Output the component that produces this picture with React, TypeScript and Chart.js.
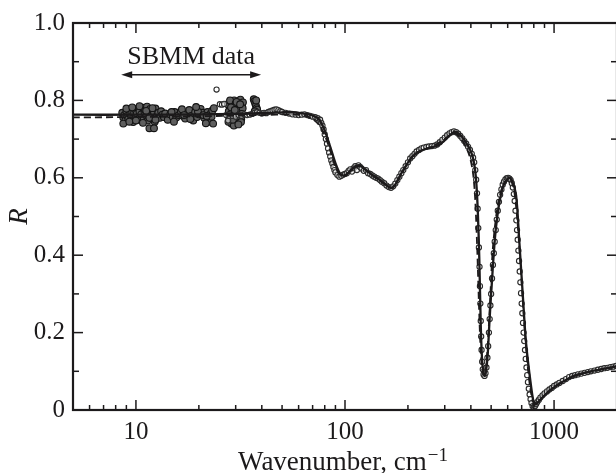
import React, { useEffect, useRef } from "react";
import { Chart, registerables } from "chart.js";

Chart.register(...registerables);

const X_MIN = 5;
const X_MAX = 2000;
const Y_MIN = 0;
const Y_MAX = 1;
const xTickValues = [10, 100, 1000];
const xMinorTicks = [6, 7, 8, 9, 20, 30, 40, 50, 60, 70, 80, 90, 200, 300, 400, 500, 600, 700, 800, 900, 2000];
const yTickValues = [0, 0.2, 0.4, 0.6, 0.8, 1.0];
const yMinorTicks = [0.1, 0.3, 0.5, 0.7, 0.9];

// SBMM (submillimetre) measured points
const sbmmX = [
  8.6, 8.7, 8.8, 8.9, 9.0, 9.1, 9.2, 9.3, 9.4, 9.5, 9.6, 9.7, 9.8, 9.9, 10.0, 10.1, 10.2, 10.3, 10.4, 10.5,
  10.6, 10.8, 10.9, 11.0, 11.1, 11.2, 11.3, 11.4, 11.5, 11.6, 11.7, 11.8, 11.9, 12.0, 12.1, 12.2, 12.3, 12.4,
  12.6, 12.8, 13.0, 13.2, 13.4, 13.6, 13.8, 8.7, 9.0, 9.3, 9.6, 10.0, 10.4, 10.8, 11.2, 11.6, 12.0, 12.4,
  11.6, 12.2,
  14.2, 14.6, 15.0, 15.3, 15.6, 16.0, 16.4, 16.8, 17.2, 17.6, 18.0, 18.4, 18.8, 19.2, 19.6, 20.0, 20.4,
  20.8, 21.2, 21.6, 22.0, 22.4, 22.8, 23.2, 23.6, 15.2, 16.6, 18.2, 19.8, 21.0, 22.2, 23.0, 14.8, 17.0,
  19.4, 21.8, 23.4, 21.6,
  27.5, 27.8, 28.0, 28.3, 28.6, 28.9, 29.2, 29.5, 29.8, 30.1, 30.4, 30.7, 31.0, 31.3, 31.6, 31.9, 32.2,
  32.5, 27.7, 28.2, 28.8, 29.4, 30.0, 30.6, 31.2, 31.8, 32.4, 27.9, 28.5, 29.1, 29.7, 30.3, 30.9, 31.5, 32.1,
  36.6, 36.9, 37.2, 37.5, 37.8, 38.0, 37.0, 37.6,
];
const sbmmY = [
  0.768, 0.756, 0.762, 0.748, 0.772, 0.760, 0.752, 0.776, 0.765, 0.758, 0.770, 0.744, 0.768, 0.777, 0.760,
  0.766, 0.750, 0.779, 0.771, 0.757, 0.764, 0.781, 0.752, 0.769, 0.775, 0.761, 0.784, 0.748, 0.770, 0.758,
  0.778, 0.766, 0.753, 0.774, 0.762, 0.770, 0.745, 0.779, 0.760, 0.768, 0.755, 0.772, 0.763, 0.757, 0.766,
  0.740, 0.779, 0.745, 0.782, 0.748, 0.785, 0.742, 0.773, 0.755, 0.780, 0.750,
  0.728, 0.728,
  0.750, 0.764, 0.758, 0.770, 0.756, 0.762, 0.772, 0.760, 0.753, 0.766, 0.775, 0.760, 0.748, 0.770, 0.757,
  0.764, 0.778, 0.768, 0.755, 0.762, 0.770, 0.750, 0.766, 0.774, 0.780, 0.745, 0.777, 0.752, 0.771, 0.762,
  0.745, 0.758, 0.770, 0.762, 0.783, 0.760, 0.740, 0.741,
  0.790, 0.772, 0.755, 0.798, 0.740, 0.782, 0.765, 0.800, 0.748, 0.787, 0.760, 0.795, 0.742, 0.778, 0.802,
  0.752, 0.785, 0.795, 0.745, 0.800, 0.768, 0.735, 0.792, 0.775, 0.758, 0.744, 0.780, 0.762, 0.782, 0.750,
  0.775, 0.796, 0.738, 0.790, 0.765,
  0.803, 0.798, 0.792, 0.786, 0.780, 0.776, 0.772, 0.800,
];

// FTIR measured points (open circles)
const ftirX = [
  24.3, 25.2, 25.8, 26.4, 27.0, 27.6, 28.0, 29.0, 30.0, 31.0, 32.0, 33.0, 34.0, 35.0, 36.0, 37.0, 38.0, 39.0,
  40, 41, 42, 43, 44, 45, 46, 47, 48, 49, 50, 52, 54, 56, 58, 60, 62, 64, 66, 68, 70, 72, 74,
  76, 77, 78, 79, 80, 81, 82, 83, 84, 85, 86, 87, 88, 89, 90, 92, 94, 96, 98,
  100, 102, 104, 106, 108, 110, 112, 114, 116, 118, 120, 123, 126, 129, 132, 135, 138, 141, 144, 147, 150,
  154, 158, 162, 166, 170,
  174, 178, 182, 186, 190, 195, 200, 205, 210, 215, 220, 226, 232, 238, 245, 252, 260, 268, 276, 284, 292,
  300, 308, 316, 324, 332, 340, 348, 356, 364, 372, 380, 388, 396, 404, 410, 415, 420, 424, 428, 431, 434,
  437, 440, 442, 444, 446, 448, 450, 453, 456, 460, 465, 470, 475, 480, 484, 488, 492, 496, 500, 505, 510,
  515, 520, 526, 532, 538, 545, 552, 560, 568, 576, 585, 594, 603, 612, 620, 628, 635, 642, 648, 654, 660,
  665, 670, 675, 680, 685, 690, 695, 700, 705, 710, 715, 720, 726, 732, 738, 744, 750, 757, 764, 772, 780,
  790, 800, 810, 820, 830, 845, 860, 880, 900, 925, 950, 975, 1000, 1030, 1060, 1100, 1140, 1180, 1220,
  1260, 1300, 1350, 1400, 1450, 1500, 1560, 1620, 1680, 1740, 1800, 1860, 1920, 1980,
];
const ftirY = [
  0.828, 0.790, 0.789, 0.791, 0.762, 0.748, 0.760, 0.760, 0.758, 0.762, 0.760, 0.764, 0.762, 0.763, 0.765,
  0.768, 0.770, 0.768,
  0.766, 0.768, 0.767, 0.770, 0.772, 0.774, 0.776, 0.777, 0.775, 0.772, 0.770, 0.768, 0.766, 0.764, 0.763,
  0.762, 0.763, 0.764, 0.762, 0.760, 0.758, 0.757, 0.754,
  0.750, 0.742, 0.735, 0.725, 0.712, 0.700, 0.688, 0.676, 0.665, 0.655, 0.645, 0.637, 0.628, 0.620, 0.614,
  0.607, 0.603, 0.605, 0.608,
  0.610, 0.612, 0.618, 0.622, 0.616, 0.625, 0.630, 0.620, 0.632, 0.628, 0.624, 0.618, 0.620, 0.612, 0.610,
  0.606, 0.603, 0.600, 0.598, 0.594, 0.590, 0.586, 0.580, 0.576, 0.574, 0.578,
  0.585, 0.594, 0.603, 0.612, 0.620, 0.630, 0.640, 0.650, 0.656, 0.662, 0.668, 0.672, 0.676, 0.678, 0.680,
  0.681, 0.682, 0.683, 0.686, 0.692, 0.698, 0.704, 0.710, 0.715, 0.718, 0.720, 0.718, 0.714, 0.708, 0.702,
  0.695, 0.688, 0.680, 0.672, 0.662, 0.652, 0.640, 0.620, 0.595, 0.560, 0.520, 0.470, 0.420, 0.370, 0.320,
  0.275, 0.230, 0.190, 0.155, 0.125, 0.105, 0.092, 0.088, 0.095, 0.110, 0.135, 0.165, 0.200, 0.235, 0.270,
  0.300, 0.340, 0.375, 0.405, 0.435, 0.465, 0.492, 0.515, 0.538, 0.556, 0.570, 0.582, 0.590, 0.596, 0.599,
  0.600, 0.598, 0.594, 0.586, 0.575, 0.558, 0.540, 0.515, 0.490, 0.465, 0.440, 0.412, 0.385, 0.358, 0.330,
  0.302, 0.275, 0.250, 0.225, 0.200, 0.178, 0.155, 0.132, 0.110, 0.090, 0.072, 0.055, 0.040, 0.028, 0.018,
  0.010, 0.008, 0.010, 0.015, 0.020, 0.026, 0.032, 0.038, 0.043, 0.048, 0.053, 0.057, 0.062, 0.066, 0.070,
  0.075, 0.080, 0.085, 0.088, 0.090, 0.092, 0.094, 0.096, 0.098, 0.100, 0.102, 0.104, 0.106, 0.108, 0.109,
  0.111, 0.112, 0.114,
];

// Model fit (solid line)
const fitX = [
  5, 10, 20, 30, 40, 50, 55, 60, 65, 70, 75, 80, 85, 90, 95, 100, 105, 112, 118, 125, 135, 145, 155, 165,
  172, 180, 195, 210, 230, 255, 280, 300, 320, 335, 350, 370, 390, 400, 410, 418, 425, 432, 439, 446, 452,
  458, 465, 472, 481, 490, 500, 527, 566, 607, 630, 658, 683, 708, 735, 777, 805, 830, 900, 985, 1100, 1274,
  1500, 1905, 2000,
];
const fitY = [
  0.763, 0.763, 0.764, 0.765, 0.767, 0.769, 0.770, 0.768, 0.765, 0.761, 0.752, 0.722, 0.680, 0.638, 0.610,
  0.606, 0.615, 0.630, 0.631, 0.622, 0.607, 0.597, 0.585, 0.574, 0.578, 0.598, 0.630, 0.655, 0.670, 0.678,
  0.684, 0.697, 0.712, 0.719, 0.714, 0.700, 0.680, 0.668, 0.650, 0.625, 0.585, 0.510, 0.390, 0.220, 0.135,
  0.100, 0.088, 0.098, 0.140, 0.220, 0.300, 0.470, 0.573, 0.600, 0.592, 0.555, 0.430, 0.300, 0.172, 0.060,
  0.014, 0.018, 0.038, 0.056, 0.073, 0.090, 0.100, 0.111, 0.113,
];

// Alternative fit (dashed line)
const dashX = [
  5, 10, 20, 40, 55, 65, 70, 75, 80, 85, 90, 95, 100, 110, 118, 130, 145, 165, 175, 195, 220, 260, 290, 330,
  350, 375, 395, 410, 420, 430, 438, 446, 455, 465, 475, 490, 510, 540, 575, 610, 640, 665, 690, 715, 740,
  770, 800, 830, 900, 1000, 1270, 2000,
];
const dashY = [
  0.756, 0.757, 0.759, 0.762, 0.764, 0.760, 0.752, 0.737, 0.710, 0.670, 0.628, 0.607, 0.606, 0.626, 0.629,
  0.613, 0.595, 0.574, 0.584, 0.628, 0.665, 0.680, 0.695, 0.715, 0.708, 0.685, 0.655, 0.610, 0.540, 0.400,
  0.260, 0.150, 0.100, 0.092, 0.120, 0.240, 0.420, 0.535, 0.585, 0.598, 0.575, 0.500, 0.380, 0.250, 0.140,
  0.055, 0.018, 0.020, 0.038, 0.060, 0.089, 0.113,
];

// Annotation
const sbmmLabel = "SBMM data";
const sbmmRange = [8.5, 39.7];
const sbmmArrowY = 0.866;
const sbmmLabelY = 0.893;
const xTitleMain = "Wavenumber, cm";
const xTitleSup = "\u22121";
const yTitle = "R";

const INK = "#1c1a1b";
const FONT = '"Liberation Serif", "Times New Roman", serif';

const toPts = (xs: number[], ys: number[]) => xs.map((x, i) => ({ x, y: ys[i] }));

const framePlugin = {
  id: "framePlugin",
  afterDraw(chart: any) {
    const { ctx, chartArea: a, scales } = chart;
    const xs = scales.x;
    const ys = scales.y;
    ctx.save();
    ctx.strokeStyle = INK;
    ctx.fillStyle = INK;
    ctx.lineCap = "butt";
    const seg = (x1: number, y1: number, x2: number, y2: number) => {
      ctx.beginPath();
      ctx.moveTo(x1, y1);
      ctx.lineTo(x2, y2);
      ctx.stroke();
    };
    ctx.lineWidth = 1.5;
    const xt = (v: number, len: number) => {
      const p = xs.getPixelForValue(v);
      seg(p, a.bottom, p, a.bottom - len);
      seg(p, a.top, p, a.top + len);
    };
    const yt = (v: number, len: number) => {
      const p = ys.getPixelForValue(v);
      seg(a.left, p, a.left + len, p);
      seg(a.right, p, a.right - len, p);
    };
    xTickValues.forEach((v) => xt(v, 10));
    xMinorTicks.forEach((v) => xt(v, 5));
    yTickValues.forEach((v) => yt(v, 10));
    yMinorTicks.forEach((v) => yt(v, 6));
    ctx.lineWidth = 2.2;
    ctx.strokeRect(a.left, a.top, a.right - a.left, a.bottom - a.top);

    // x-axis title with superscript
    ctx.textBaseline = "alphabetic";
    ctx.textAlign = "left";
    ctx.font = `27px ${FONT}`;
    const w1 = ctx.measureText(xTitleMain).width;
    ctx.font = `19px ${FONT}`;
    const w2 = ctx.measureText(xTitleSup).width;
    const cx = (a.left + a.right) / 2 - 2;
    const x0 = cx - (w1 + w2 + 1) / 2;
    ctx.font = `27px ${FONT}`;
    ctx.fillText(xTitleMain, x0, 470);
    ctx.font = `19px ${FONT}`;
    ctx.fillText(xTitleSup, x0 + w1 + 1, 461);

    // y-axis title
    ctx.save();
    ctx.translate(27, (a.top + a.bottom) / 2);
    ctx.rotate(-Math.PI / 2);
    ctx.textAlign = "center";
    ctx.font = `italic 27px ${FONT}`;
    ctx.fillText(yTitle, 0, 0);
    ctx.restore();

    // SBMM annotation
    const ax1 = xs.getPixelForValue(sbmmRange[0]);
    const ax2 = xs.getPixelForValue(sbmmRange[1]);
    const ay = ys.getPixelForValue(sbmmArrowY);
    ctx.lineWidth = 1.5;
    seg(ax1 + 4, ay, ax2 - 4, ay);
    const head = (tip: number, dir: number) => {
      ctx.beginPath();
      ctx.moveTo(tip, ay);
      ctx.lineTo(tip + dir * 11, ay - 3.5);
      ctx.lineTo(tip + dir * 11, ay + 3.5);
      ctx.closePath();
      ctx.fill();
    };
    head(ax1, 1);
    head(ax2, -1);
    ctx.font = `26px ${FONT}`;
    ctx.textAlign = "center";
    ctx.fillText(sbmmLabel, (ax1 + ax2) / 2, ys.getPixelForValue(sbmmLabelY));
    ctx.restore();
  },
};

export default function App() {
  const canvasRef = useRef<HTMLCanvasElement | null>(null);

  useEffect(() => {
    const canvas = canvasRef.current;
    if (!canvas) return;
    const chart = new Chart(canvas, {
      type: "scatter",
      data: {
        datasets: [
          {
            label: "fit",
            data: toPts(fitX, fitY),
            showLine: true,
            borderColor: INK,
            borderWidth: 2.3,
            pointRadius: 0,
            tension: 0.3,
            order: 1,
          },
          {
            label: "fit2",
            data: toPts(dashX, dashY),
            showLine: true,
            borderColor: INK,
            borderWidth: 1.8,
            borderDash: [7, 4],
            pointRadius: 0,
            tension: 0.3,
            order: 2,
          },
          {
            label: "FTIR",
            data: toPts(ftirX, ftirY),
            showLine: false,
            pointRadius: 2.6,
            pointBorderWidth: 1.1,
            pointBorderColor: "#2a2a2a",
            pointBackgroundColor: "rgba(255,255,255,0.5)",
            order: 3,
          },
          {
            label: "SBMM",
            data: toPts(sbmmX, sbmmY),
            showLine: false,
            pointRadius: 3.4,
            pointBorderWidth: 1.1,
            pointBorderColor: "#141414",
            pointBackgroundColor: "#5e5e5e",
            order: 4,
          },
        ],
      },
      options: {
        responsive: false,
        maintainAspectRatio: false,
        animation: false,
        devicePixelRatio: 1,
        layout: { padding: { left: 0, top: 21, right: 8, bottom: 0 } },
        plugins: { legend: { display: false }, tooltip: { enabled: false } },
        scales: {
          x: {
            type: "logarithmic",
            min: X_MIN,
            max: X_MAX,
            grid: { display: false, drawTicks: false },
            border: { display: false },
            afterBuildTicks: (scale: any) => {
              scale.ticks = xTickValues.map((v) => ({ value: v }));
            },
            afterFit: (scale: any) => {
              scale.height = 63;
            },
            ticks: {
              autoSkip: false,
              maxRotation: 0,
              padding: 7,
              color: INK,
              font: { family: FONT, size: 25 },
              callback: (v: any) => String(v),
            },
          },
          y: {
            type: "linear",
            min: Y_MIN,
            max: Y_MAX,
            grid: { display: false, drawTicks: false },
            border: { display: false },
            afterBuildTicks: (scale: any) => {
              scale.ticks = yTickValues.map((v) => ({ value: v }));
            },
            afterFit: (scale: any) => {
              scale.width = 73;
            },
            ticks: {
              padding: 8,
              color: INK,
              font: { family: FONT, size: 25 },
              callback: (v: any) => (Number(v) === 0 ? "0" : Number(v).toFixed(1)),
            },
          },
        },
      },
      plugins: [framePlugin],
    });
    return () => chart.destroy();
  }, []);

  return (
    <div
      style={{
        position: "fixed",
        left: 0,
        top: 0,
        width: 616,
        height: 473,
        overflow: "hidden",
        background: "#fff",
      }}
    >
      <canvas ref={canvasRef} width={625} height={473} style={{ width: 625, height: 473, display: "block" }} />
    </div>
  );
}
